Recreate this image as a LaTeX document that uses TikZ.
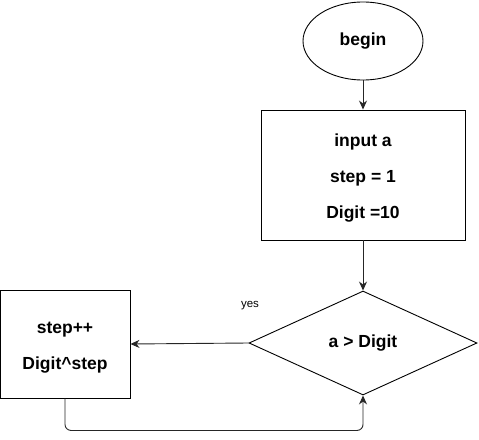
\documentclass[tikz,border=0pt]{standalone}
\usepackage{fontspec}
\setmainfont{Liberation Sans}
\usetikzlibrary{shapes.geometric,arrows.meta}
\newcommand{\lines}[1]{\raisebox{-3pt}{\begin{tabular}{@{}c@{}}#1\end{tabular}}}
\begin{document}
\begin{tikzpicture}[x=1pt,y=-1pt,
  box/.style={draw=black,line width=0.9pt,inner sep=0pt,align=center,
    font=\bfseries\fontsize{17.5}{36}\selectfont},
  conn/.style={draw=black!85,line width=0.9pt,-{Stealth[length=9pt,width=8pt]}}]
\useasboundingbox (0,0) rectangle (479,439);
\node[box,ellipse,minimum width=120pt,minimum height=78pt] (begin) at (363,41) {begin};
\node[box,rectangle,minimum width=204pt,minimum height=130pt] (init) at (363,175) {\lines{input a\\step = 1\\Digit =10}};
\node[box,diamond,minimum width=228pt,minimum height=104pt] (cond) at (363,343) {a > Digit};
\node[box,rectangle,minimum width=130pt,minimum height=108pt] (update) at (65,344) {\lines{step++\\Digit\^{}step}};
\node[font=\fontsize{11.5}{13}\selectfont] (yes) at (250,306) {yes};
\draw[conn] (begin) -- (init);
\draw[conn] (init) -- (cond);
\draw[conn] (cond.west) -- (update.east);
\draw[conn,rounded corners=6pt] (update.south) -- ([yshift=-32pt]update.south) -| (cond.south);
\end{tikzpicture}
\end{document}
